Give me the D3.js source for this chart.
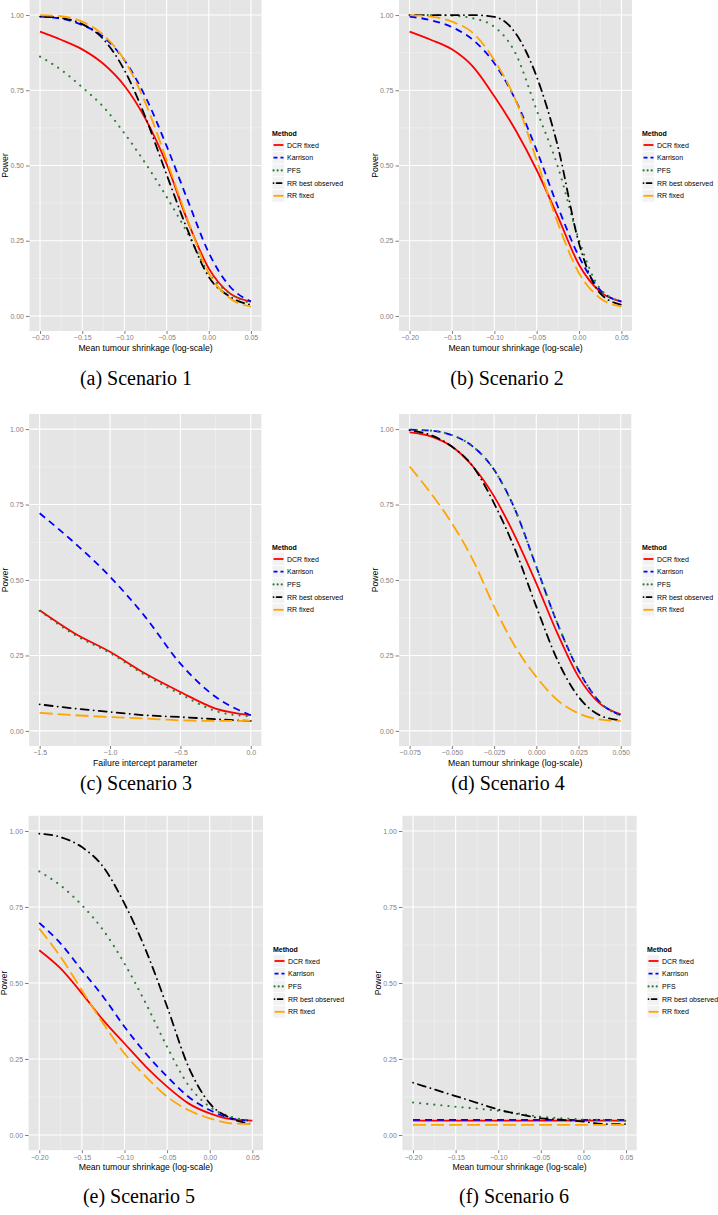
<!DOCTYPE html>
<html><head><meta charset="utf-8">
<script src="https://cdn.jsdelivr.net/npm/d3@7"></script>
<style>
html,body{margin:0;padding:0;background:#fff;}
svg{display:block;}
</style>
</head><body>
<svg id="chart" width="718" height="1215"></svg>
<script>
// ---------------- DATA ----------------
const methods = ["DCR fixed", "Karrison", "PFS", "RR best observed", "RR fixed"];
const yTicks = [0, 0.25, 0.5, 0.75, 1.0];
const xTicksShrink = [-0.20, -0.15, -0.10, -0.05, 0.00, 0.05];
const xTicksIntercept = [-1.5, -1.0, -0.5, 0.0];
const xTicksS4 = [-0.075, -0.050, -0.025, 0.000, 0.025, 0.050];

const xShrink = [-0.20, -0.175, -0.15, -0.125, -0.10, -0.075, -0.05, -0.025, 0.00, 0.025, 0.05];
const xIntercept = [-1.5, -1.25, -1.0, -0.75, -0.5, -0.25, 0.0];
const xS4 = [-0.075, -0.0625, -0.05, -0.0375, -0.025, -0.0125, 0.0, 0.0125, 0.025, 0.0375, 0.05];

// Scenario 1
const s1_dcr  = [0.945, 0.918, 0.886, 0.838, 0.765, 0.655, 0.505, 0.315, 0.158, 0.075, 0.048];
const s1_kar  = [0.995, 0.988, 0.967, 0.928, 0.850, 0.728, 0.565, 0.385, 0.210, 0.098, 0.048];
const s1_pfs  = [0.862, 0.818, 0.760, 0.695, 0.607, 0.507, 0.396, 0.275, 0.142, 0.075, 0.042];
const s1_rrb  = [0.995, 0.990, 0.970, 0.920, 0.817, 0.660, 0.470, 0.285, 0.130, 0.064, 0.037];
const s1_rrf  = [1.000, 0.996, 0.978, 0.934, 0.850, 0.707, 0.518, 0.319, 0.142, 0.059, 0.031];
// Scenario 2
const s2_dcr  = [0.945, 0.918, 0.886, 0.828, 0.730, 0.618, 0.485, 0.330, 0.170, 0.080, 0.048];
const s2_kar  = [0.995, 0.983, 0.960, 0.917, 0.840, 0.718, 0.550, 0.363, 0.197, 0.086, 0.048];
const s2_pfs  = [1.000, 1.000, 0.998, 0.989, 0.961, 0.873, 0.684, 0.496, 0.252, 0.090, 0.048];
const s2_rrb  = [1.000, 1.000, 1.000, 1.000, 0.994, 0.940, 0.795, 0.563, 0.241, 0.075, 0.037];
const s2_rrf  = [1.000, 0.995, 0.978, 0.940, 0.850, 0.718, 0.518, 0.308, 0.142, 0.059, 0.031];
// Scenario 3
const s3_dcr  = [0.400, 0.323, 0.262, 0.190, 0.129, 0.074, 0.052];
const s3_kar  = [0.721, 0.622, 0.511, 0.378, 0.223, 0.113, 0.052];
const s3_pfs  = [0.398, 0.318, 0.258, 0.185, 0.122, 0.066, 0.048];
const s3_rrb  = [0.088, 0.074, 0.063, 0.052, 0.046, 0.039, 0.033];
const s3_rrf  = [0.060, 0.052, 0.046, 0.041, 0.035, 0.033, 0.033];
// Scenario 4
const s4_dcr  = [0.989, 0.976, 0.942, 0.876, 0.777, 0.644, 0.489, 0.323, 0.179, 0.091, 0.055];
const s4_kar  = [0.998, 0.995, 0.980, 0.942, 0.865, 0.732, 0.544, 0.356, 0.201, 0.096, 0.052];
const s4_pfs  = [0.998, 0.995, 0.980, 0.942, 0.865, 0.732, 0.544, 0.356, 0.201, 0.096, 0.050];
const s4_rrb  = [0.996, 0.980, 0.942, 0.876, 0.754, 0.600, 0.412, 0.235, 0.113, 0.052, 0.035];
const s4_rrf  = [0.876, 0.788, 0.688, 0.566, 0.412, 0.279, 0.179, 0.102, 0.058, 0.038, 0.033];
// Scenario 5
const s5_dcr  = [0.608, 0.548, 0.466, 0.378, 0.301, 0.225, 0.159, 0.104, 0.071, 0.052, 0.047];
const s5_kar  = [0.698, 0.630, 0.542, 0.455, 0.356, 0.268, 0.192, 0.126, 0.082, 0.055, 0.047];
const s5_pfs  = [0.867, 0.821, 0.756, 0.674, 0.564, 0.433, 0.290, 0.164, 0.093, 0.060, 0.047];
const s5_rrb  = [0.991, 0.980, 0.947, 0.882, 0.761, 0.608, 0.422, 0.225, 0.104, 0.055, 0.036];
const s5_rrf  = [0.679, 0.586, 0.476, 0.367, 0.268, 0.192, 0.126, 0.082, 0.055, 0.038, 0.036];
// Scenario 6
const s6_dcr  = [0.047, 0.047, 0.047, 0.047, 0.047, 0.047, 0.047, 0.047, 0.047, 0.047, 0.047];
const s6_kar  = [0.050, 0.050, 0.050, 0.050, 0.050, 0.050, 0.050, 0.050, 0.050, 0.050, 0.050];
const s6_pfs  = [0.107, 0.100, 0.093, 0.087, 0.080, 0.070, 0.060, 0.055, 0.051, 0.049, 0.047];
const s6_rrb  = [0.172, 0.150, 0.128, 0.106, 0.084, 0.068, 0.055, 0.050, 0.044, 0.036, 0.036];
const s6_rrf  = [0.033, 0.033, 0.033, 0.033, 0.033, 0.033, 0.033, 0.033, 0.033, 0.033, 0.033];

// ---------------- STYLE ----------------
const colors = ["#ff0000", "#0000ff", "#2f7d32", "#000000", "#ffa500"];
const dashes = [null, "7,5", "0.1,7", "0.1,5,8,5", "13,5"];
const caps = ["butt", "butt", "round", "round", "butt"];
const legendDashes = [null, "4,3", "0.1,4", "0.1,3,5,2.5", "12,2"];

const shrinkTitle = "Mean tumour shrinkage (log-scale)";
const panels = [
  {L:29.5, R:261.5, T:0,   B:331,  xs:xShrink, xd:[-0.2125,0.0625], ticks:xTicksShrink, fmt:".2f", title:shrinkTitle,
   series:[s1_dcr,s1_kar,s1_pfs,s1_rrb,s1_rrf], cap:"(a) Scenario 1", capX:136, capY:385, lgX:272, lgY:133, pwX:8},
  {L:399,  R:632,   T:0,   B:331,  xs:xShrink, xd:[-0.2125,0.0625], ticks:xTicksShrink, fmt:".2f", title:shrinkTitle,
   series:[s2_dcr,s2_kar,s2_pfs,s2_rrb,s2_rrf], cap:"(b) Scenario 2", capX:507, capY:385, lgX:642, lgY:133, pwX:378},
  {L:29.1, R:261.3, T:414, B:746,  xs:xIntercept, xd:[-1.575,0.075], ticks:xTicksIntercept, fmt:".1f", title:"Failure intercept parameter",
   series:[s3_dcr,s3_kar,s3_pfs,s3_rrb,s3_rrf], cap:"(c) Scenario 3", capX:136, capY:790, lgX:272, lgY:547, pwX:8},
  {L:399.1,R:631.3, T:414, B:746,  xs:xS4, xd:[-0.08125,0.05625], ticks:xTicksS4, fmt:".3f", title:shrinkTitle,
   series:[s4_dcr,s4_kar,s4_pfs,s4_rrb,s4_rrf], cap:"(d) Scenario 4", capX:508, capY:790, lgX:642, lgY:547, pwX:378},
  {L:28.6, R:263,   T:815.8, B:1150.2, xs:xShrink, xd:[-0.2125,0.0625], ticks:xTicksShrink, fmt:".2f", title:shrinkTitle,
   series:[s5_dcr,s5_kar,s5_pfs,s5_rrb,s5_rrf], cap:"(e) Scenario 5", capX:139, capY:1203, lgX:273, lgY:949, pwX:7},
  {L:402.4,R:636.7, T:815.8, B:1150.2, xs:xShrink, xd:[-0.2125,0.0625], ticks:xTicksShrink, fmt:".2f", title:shrinkTitle,
   series:[s6_dcr,s6_kar,s6_pfs,s6_rrb,s6_rrf], cap:"(f) Scenario 6", capX:514, capY:1203, lgX:647, lgY:949, pwX:381}
];

const svg = d3.select("#chart");
const SANS = "'Liberation Sans', Arial, sans-serif";

panels.forEach(p => {
  const g = svg.append("g");
  const x = d3.scaleLinear().domain(p.xd).range([p.L, p.R]);
  const y = d3.scaleLinear().domain([-0.05, 1.05]).range([p.B, p.T]);

  g.append("rect").attr("x", p.L).attr("y", p.T).attr("width", p.R - p.L).attr("height", p.B - p.T)
    .attr("fill", "#e5e5e5");

  // minor gridlines
  const xMinor = d3.pairs(p.ticks).map(([a, b]) => (a + b) / 2);
  const yMinor = d3.pairs(yTicks).map(([a, b]) => (a + b) / 2);
  g.selectAll(".xmin").data(xMinor).enter().append("line")
    .attr("x1", d => x(d)).attr("x2", d => x(d)).attr("y1", p.T).attr("y2", p.B)
    .attr("stroke", "#f2f2f2").attr("stroke-width", 0.6);
  g.selectAll(".ymin").data(yMinor).enter().append("line")
    .attr("y1", d => y(d)).attr("y2", d => y(d)).attr("x1", p.L).attr("x2", p.R)
    .attr("stroke", "#f2f2f2").attr("stroke-width", 0.6);
  // major gridlines
  g.selectAll(".xmaj").data(p.ticks).enter().append("line")
    .attr("x1", d => x(d)).attr("x2", d => x(d)).attr("y1", p.T).attr("y2", p.B)
    .attr("stroke", "#ffffff").attr("stroke-width", 1.1);
  g.selectAll(".ymaj").data(yTicks).enter().append("line")
    .attr("y1", d => y(d)).attr("y2", d => y(d)).attr("x1", p.L).attr("x2", p.R)
    .attr("stroke", "#ffffff").attr("stroke-width", 1.1);

  // axes
  const xAxis = d3.axisBottom(x).tickValues(p.ticks).tickFormat(d3.format(p.fmt)).tickSize(3).tickPadding(1.5);
  const gx = g.append("g").attr("transform", `translate(0,${p.B})`).call(xAxis);
  gx.select(".domain").remove();
  gx.selectAll("line").attr("stroke", "#7f7f7f");
  gx.selectAll("text").attr("fill", "#7f7f7f").style("font-family", SANS).style("font-size", "7px");

  const yAxis = d3.axisLeft(y).tickValues(yTicks).tickFormat(d3.format(".2f")).tickSize(3.5).tickPadding(2);
  const gy = g.append("g").attr("transform", `translate(${p.L},0)`).call(yAxis);
  gy.select(".domain").remove();
  gy.selectAll("line").attr("stroke", "#7f7f7f");
  gy.selectAll("text").attr("fill", "#7f7f7f").style("font-family", SANS).style("font-size", "7px");

  // axis titles
  g.append("text").attr("x", (p.L + p.R) / 2).attr("y", p.B + 19.5).attr("text-anchor", "middle")
    .style("font-family", SANS).style("font-size", "8.7px").attr("fill", "#000").text(p.title);
  g.append("text").attr("transform", `translate(${p.pwX},${(p.T + p.B) / 2}) rotate(-90)`)
    .attr("text-anchor", "middle").style("font-family", SANS).style("font-size", "8.7px").attr("fill", "#000").text("Power");

  // lines
  const clipId = "clip" + Math.round(p.L) + "_" + Math.round(p.T);
  svg.append("clipPath").attr("id", clipId).append("rect")
    .attr("x", p.L).attr("y", p.T).attr("width", p.R - p.L).attr("height", p.B - p.T);
  const line = d3.line().x(d => x(d[0])).y(d => y(d[1])).curve(d3.curveMonotoneX);
  const lg = g.append("g").attr("clip-path", `url(#${clipId})`);
  [0, 1, 2, 3, 4].forEach(i => {
    const pts = p.xs.map((xv, k) => [xv, p.series[i][k]]);
    lg.append("path").attr("d", line(pts)).attr("fill", "none")
      .attr("stroke", colors[i]).attr("stroke-width", i === 2 ? 2.1 : 1.8)
      .attr("stroke-dasharray", dashes[i])
      .attr("stroke-linecap", caps[i]);
  });

  // legend
  const lgG = g.append("g");
  lgG.append("text").attr("x", p.lgX).attr("y", p.lgY + 2.5).style("font-family", SANS)
    .style("font-size", "7px").style("font-weight", "bold").attr("fill", "#000").text("Method");
  methods.forEach((m, i) => {
    const cy = p.lgY + 12 + i * 12.7;
    lgG.append("rect").attr("x", p.lgX).attr("y", cy - 6.35).attr("width", 12.7).attr("height", 12.7)
      .attr("fill", "#f2f2f2").attr("stroke", "#ffffff").attr("stroke-width", 0.8);
    lgG.append("line").attr("x1", p.lgX + 1.5).attr("x2", p.lgX + 11.5).attr("y1", cy).attr("y2", cy)
      .attr("stroke", colors[i]).attr("stroke-width", i === 2 ? 2.1 : 1.8)
      .attr("stroke-dasharray", legendDashes[i])
      .attr("stroke-linecap", caps[i]);
    lgG.append("text").attr("x", p.lgX + 15).attr("y", cy + 2.5).style("font-family", SANS)
      .style("font-size", "7px").attr("fill", "#000").text(m);
  });

  // caption
  g.append("text").attr("x", p.capX).attr("y", p.capY).attr("text-anchor", "middle")
    .style("font-family", "'Liberation Serif', 'Times New Roman', serif").style("font-size", "20px")
    .attr("fill", "#000").text(p.cap);
});
</script>
</body></html>
